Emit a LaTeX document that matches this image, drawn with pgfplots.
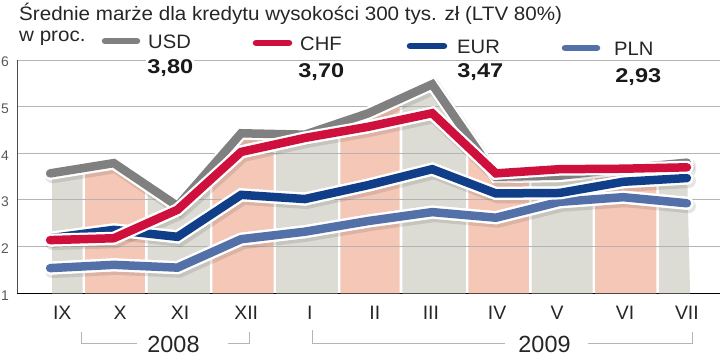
\documentclass[border=0pt]{standalone}
\usepackage{pgfplots}
\pgfplotsset{compat=1.18}
\usepgfplotslibrary{fillbetween}
\usepackage{fontspec}
\setmainfont{Liberation Sans}
\definecolor{cUSD}{HTML}{808080}
\definecolor{cCHF}{HTML}{CF0F3C}
\definecolor{cEUR}{HTML}{103E88}
\definecolor{cPLN}{HTML}{5470A8}
\definecolor{bandG}{HTML}{DCDCD4}
\definecolor{bandP}{HTML}{F4C7B6}
\definecolor{gridc}{HTML}{B4B4B4}
\pgfplotstableread{
x usd chf eur pln
0 3.57 2.14 2.18 1.54
1 3.79 2.18 2.36 1.61
2 2.87 2.79 2.21 1.55
3 4.43 4.03 3.11 2.16
4 4.40 4.33 3.02 2.32
5 4.86 4.57 3.32 2.55
6 5.48 4.86 3.66 2.74
7 3.50 3.57 3.14 2.62
8 3.52 3.66 3.15 2.96
9 3.67 3.67 3.39 3.06
10 3.80 3.70 3.47 2.93
}\data
\begin{document}
\begin{tikzpicture}[x=1bp,y=1bp]
\begin{axis}[
  at={(17bp,62.7bp)}, anchor=south west,
  width=703bp, height=233.3bp, scale only axis,
  xmin=-0.52, xmax=10.52, ymin=1, ymax=6,
  axis x line*=bottom, axis y line*=left,
  x axis line style={black, line width=1.4bp, -},
  y axis line style={draw=none},
  ytick={1,2,3,4,5,6},
  xtick={0.19,1.10,2.04,3.08,4.08,5.10,5.98,7.02,7.96,9.03,10},
  xticklabels={IX,X,XI,XII,I,II,III,IV,V,VI,VII},
  major tick length=0pt,
  /pgf/number format/assume math mode=true,
  xticklabel style={anchor=base, yshift=-26bp, font=\fontsize{19.5}{20}\selectfont, text=black!85},
  yticklabel style={anchor=east, inner sep=0pt, xshift=-8bp, yshift=-2bp, font=\fontsize{14}{14}\selectfont, text=black!65},
  clip=false,
]
\addplot[draw=none, name path=usd] table[x=x,y=usd]{\data};
\addplot[draw=none, name path=base] coordinates {(-0.5,1) (10.5,1)};
\addplot[fill=bandG, draw=none] fill between[of=usd and base, soft clip={domain=0.03:0.51}];
\addplot[fill=bandP, draw=none] fill between[of=usd and base, soft clip={domain=0.55:1.49}];
\addplot[fill=bandG, draw=none] fill between[of=usd and base, soft clip={domain=1.53:2.51}];
\addplot[fill=bandP, draw=none] fill between[of=usd and base, soft clip={domain=2.55:3.51}];
\addplot[fill=bandG, draw=none] fill between[of=usd and base, soft clip={domain=3.55:4.52}];
\addplot[fill=bandP, draw=none] fill between[of=usd and base, soft clip={domain=4.56:5.49}];
\addplot[fill=bandG, draw=none] fill between[of=usd and base, soft clip={domain=5.53:6.53}];
\addplot[fill=bandP, draw=none] fill between[of=usd and base, soft clip={domain=6.57:7.52}];
\addplot[fill=bandG, draw=none] fill between[of=usd and base, soft clip={domain=7.56:8.52}];
\addplot[fill=bandP, draw=none] fill between[of=usd and base, soft clip={domain=8.56:9.52}];
\addplot[fill=bandG, draw=none] fill between[of=usd and base, soft clip={domain=9.56:10.05}];
% grid lines
\foreach \k in {2,3,4,5,6} {
  \edef\tmp{\noexpand\draw[gridc, line width=1bp] (axis cs:-0.52,\k) -- (axis cs:10.52,\k);}
  \tmp
}
\draw[black!70, line width=1bp] (axis cs:-0.52,1) -- (axis cs:-0.52,6);
% series
\pgfplotsinvokeforeach{usd,pln,eur,chf}{
  \addplot[black, opacity=0.10, line width=14bp, line join=miter, line cap=round, shift={(2bp,-3bp)}] table[x=x,y=#1]{\data};
  \addplot[white, line width=13bp, line join=miter, line cap=round] table[x=x,y=#1]{\data};
}
\addplot[cUSD, line width=8.5bp, line join=miter, line cap=round] table[x=x,y=usd]{\data};
\addplot[white, line width=13bp, line join=miter, line cap=round] table[x=x,y=pln]{\data};
\addplot[cPLN, line width=8.5bp, line join=miter, line cap=round] table[x=x,y=pln]{\data};
\addplot[white, line width=13bp, line join=miter, line cap=round] table[x=x,y=eur]{\data};
\addplot[cEUR, line width=8.5bp, line join=miter, line cap=round] table[x=x,y=eur]{\data};
\addplot[white, line width=13bp, line join=miter, line cap=round] table[x=x,y=chf]{\data};
\addplot[cCHF, line width=8.5bp, line join=miter, line cap=round] table[x=x,y=chf]{\data};
\end{axis}
% title
\node[anchor=base west, inner sep=0, xscale=1.06, font=\fontsize{19.5}{20}\selectfont, text=black!85] at (19,335.3) {Średnie marże dla kredytu wysokości 300 tys. zł (LTV 80\%)};
\node[anchor=base west, inner sep=0, xscale=1.06, font=\fontsize{19.5}{20}\selectfont, text=black!85] at (19,314.3) {w proc.};
% legend
\draw[cUSD, line width=6.5bp, line cap=round] (105,315) -- (137,315);
\draw[cCHF, line width=6.5bp, line cap=round] (256,313) -- (289,313);
\draw[cEUR, line width=6.5bp, line cap=round] (410,310) -- (444,310);
\draw[cPLN, line width=6.5bp, line cap=round] (565,308) -- (597,308);
\begin{scope}[every node/.style={anchor=base west, inner sep=0, xscale=1.04, font=\fontsize{19.5}{20}\selectfont, text=black!85}]
\node at (148,308) {USD};
\node at (300,306) {CHF};
\node at (457,303) {EUR};
\node at (614,301) {PLN};
\end{scope}
\begin{scope}[every node/.style={anchor=base west, inner sep=1bp, fill=white, xscale=1.18, font=\fontsize{20}{20}\bfseries\selectfont, text=black!90}]
\node at (146,283) {3,80};
\node at (297,279) {3,70};
\node at (456,279) {3,47};
\node at (614,274) {2,93};
\end{scope}
% year brackets
\draw[gridc, line width=1bp] (81,24) -- (81,13) -- (137,13);
\draw[gridc, line width=1bp] (228,13) -- (249,13) -- (249,24);
\node[anchor=base, inner sep=0, font=\fontsize{23.5}{24}\selectfont, text=black!85] at (173.5,4) {2008};
\draw[gridc, line width=1bp] (312,26) -- (312,13) -- (505,13);
\draw[gridc, line width=1bp] (588,13) -- (692,13) -- (692,24);
\node[anchor=base, inner sep=0, font=\fontsize{23.5}{24}\selectfont, text=black!85] at (544.5,4) {2009};
\pgfresetboundingbox
\path[use as bounding box] (0,0) rectangle (720,356);
\end{tikzpicture}
\end{document}
